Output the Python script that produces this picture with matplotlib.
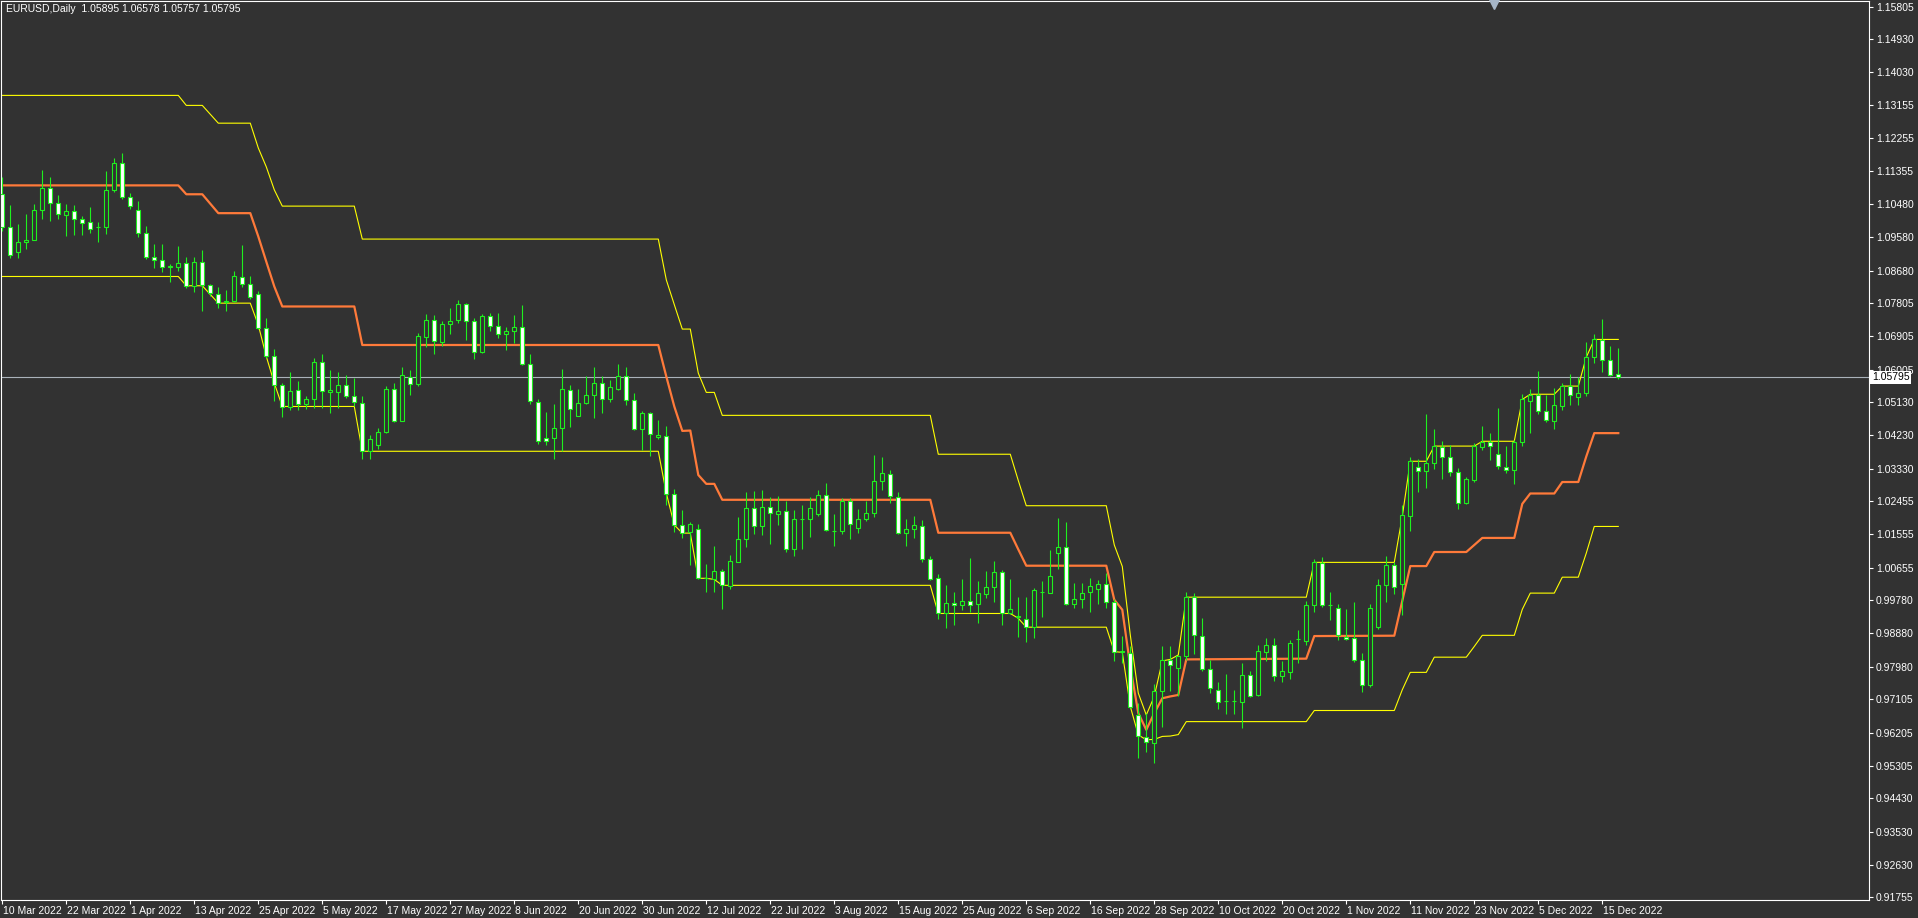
import matplotlib
matplotlib.use("Agg")
import matplotlib.pyplot as plt
import matplotlib.transforms as mtransforms
import numpy as np

plt.rcParams['font.family'] = ['Liberation Sans', 'DejaVu Sans']

# daily EURUSD bars, 10 Mar 2022 .. 19 Dec 2022
opens = [
    1.1074, 1.0985, 1.0918, 1.0946, 1.0950, 1.1031, 1.1090, 1.1050, 1.1018, 1.1028,
    1.1007, 1.0999, 1.0985, 1.0985, 1.1085, 1.1158, 1.1066, 1.1031, 1.0969, 1.0904,
    1.0896, 1.0877, 1.0877, 1.0889, 1.0826, 1.0891, 1.0828, 1.0804, 1.0782, 1.0787,
    1.0850, 1.0831, 1.0804, 1.0713, 1.0637, 1.0559, 1.0499, 1.0545, 1.0507, 1.0521,
    1.0621, 1.0540, 1.0540, 1.0559, 1.0529, 1.0510, 1.0380, 1.0397, 1.0432, 1.0548,
    1.0461, 1.0580, 1.0561, 1.0688, 1.0734, 1.0674, 1.0723, 1.0734, 1.0777, 1.0731,
    1.0647, 1.0745, 1.0718, 1.0696, 1.0704, 1.0715, 1.0615, 1.0512, 1.0415, 1.0415,
    1.0442, 1.0545, 1.0475, 1.0510, 1.0531, 1.0564, 1.0521, 1.0547, 1.0583, 1.0518,
    1.0440, 1.0483, 1.0419, 1.0421, 1.0264, 1.0180, 1.0161, 1.0169, 1.0037, 1.0034,
    1.0056, 1.0016, 1.0080, 1.0143, 1.0226, 1.0178, 1.0229, 1.0210, 1.0218, 1.0115,
    1.0196, 1.0196, 1.0210, 1.0261, 1.0164, 1.0164, 1.0245, 1.0172, 1.0196, 1.0213,
    1.0299, 1.0318, 1.0256, 1.0159, 1.0169, 1.0177, 1.0088, 1.0037, 0.9943, 0.9970,
    0.9964, 0.9975, 0.9967, 0.9994, 1.0013, 1.0053, 0.9943, 0.9932, 0.9926, 0.9905,
    1.0000, 0.9997, 1.0105, 1.0121, 0.9967, 0.9980, 0.9999, 1.0007, 1.0021, 0.9972,
    0.9837, 0.9835, 0.9667, 0.9608, 0.9592, 0.9732, 0.9816, 0.9794, 0.9827, 0.9986,
    0.9880, 0.9791, 0.9735, 0.9705, 0.9705, 0.9702, 0.9775, 0.9721, 0.9837, 0.9856,
    0.9773, 0.9785, 0.9873, 0.9869, 0.9964, 1.0078, 0.9964, 0.9956, 0.9879, 0.9876,
    0.9816, 0.9748, 0.9905, 1.0018, 1.0072, 1.0021, 1.0205, 1.0337, 1.0326, 1.0348,
    1.0391, 1.0364, 1.0323, 1.0240, 1.0302, 1.0391, 1.0404, 1.0372, 1.0337, 1.0329,
    1.0404, 1.0515, 1.0531, 1.0488, 1.0461, 1.0502, 1.0556, 1.0526, 1.0537, 1.0634,
    1.0680, 1.0626, 1.05895,
]
highs = [
    1.1120, 1.1046, 1.0994, 1.1021, 1.1047, 1.1139, 1.1121, 1.1072, 1.1048, 1.1045,
    1.1016, 1.1040, 1.0999, 1.1136, 1.1172, 1.1186, 1.1078, 1.1055, 1.0988, 1.0939,
    1.0939, 1.0885, 1.0934, 1.0904, 1.0904, 1.0923, 1.0831, 1.0824, 1.0815, 1.0866,
    1.0937, 1.0853, 1.0814, 1.0740, 1.0656, 1.0564, 1.0594, 1.0569, 1.0529, 1.0632,
    1.0642, 1.0599, 1.0594, 1.0586, 1.0578, 1.0529, 1.0424, 1.0443, 1.0556, 1.0564,
    1.0607, 1.0599, 1.0699, 1.0751, 1.0747, 1.0731, 1.0766, 1.0788, 1.0780, 1.0739,
    1.0750, 1.0753, 1.0753, 1.0715, 1.0747, 1.0774, 1.0642, 1.0520, 1.0485, 1.0507,
    1.0601, 1.0558, 1.0547, 1.0583, 1.0607, 1.0583, 1.0572, 1.0615, 1.0607, 1.0537,
    1.0488, 1.0485, 1.0464, 1.0448, 1.0278, 1.0221, 1.0190, 1.0183, 1.0075, 1.0124,
    1.0061, 1.0099, 1.0202, 1.0269, 1.0272, 1.0275, 1.0256, 1.0259, 1.0245, 1.0221,
    1.0234, 1.0256, 1.0275, 1.0294, 1.0210, 1.0253, 1.0253, 1.0223, 1.0245, 1.0369,
    1.0364, 1.0329, 1.0269, 1.0196, 1.0205, 1.0194, 1.0097, 1.0048, 1.0018, 0.9999,
    1.0034, 1.0091, 1.0029, 1.0056, 1.0083, 1.0059, 1.0034, 0.9986, 0.9986, 1.0010,
    1.0029, 1.0113, 1.0199, 1.0188, 1.0024, 1.0024, 1.0037, 1.0032, 1.0051, 0.9980,
    0.9880, 0.9853, 0.9700, 0.9673, 0.9751, 0.9854, 0.9854, 0.9829, 0.9999, 0.9997,
    0.9929, 0.9816, 0.9756, 0.9778, 0.9735, 0.9808, 0.9786, 0.9856, 0.9875, 0.9875,
    0.9813, 0.9871, 0.9898, 0.9977, 1.0088, 1.0094, 0.9999, 0.9967, 0.9953, 0.9974,
    0.9835, 0.9967, 1.0034, 1.0097, 1.0080, 1.0234, 1.0364, 1.0358, 1.0480, 1.0439,
    1.0407, 1.0396, 1.0334, 1.0310, 1.0402, 1.0447, 1.0429, 1.0496, 1.0394, 1.0410,
    1.0534, 1.0547, 1.0596, 1.0531, 1.0550, 1.0564, 1.0588, 1.0580, 1.0674, 1.0696,
    1.0736, 1.0664, 1.06578,
]
lows = [
    1.0976, 1.0902, 1.0901, 1.0925, 1.0950, 1.1006, 1.1003, 1.1008, 1.0960, 1.0963,
    1.0965, 1.0970, 1.0944, 1.0967, 1.1079, 1.1061, 1.1034, 1.0959, 1.0899, 1.0874,
    1.0864, 1.0836, 1.0868, 1.0820, 1.0809, 1.0758, 1.0798, 1.0768, 1.0760, 1.0783,
    1.0823, 1.0791, 1.0710, 1.0632, 1.0515, 1.0472, 1.0491, 1.0491, 1.0494, 1.0497,
    1.0497, 1.0483, 1.0497, 1.0523, 1.0501, 1.0359, 1.0359, 1.0386, 1.0429, 1.0459,
    1.0461, 1.0533, 1.0555, 1.0661, 1.0642, 1.0664, 1.0696, 1.0726, 1.0680, 1.0628,
    1.0645, 1.0704, 1.0685, 1.0653, 1.0672, 1.0612, 1.0507, 1.0399, 1.0396, 1.0358,
    1.0380, 1.0445, 1.0475, 1.0507, 1.0469, 1.0483, 1.0512, 1.0545, 1.0504, 1.0437,
    1.0383, 1.0367, 1.0413, 1.0234, 1.0161, 1.0145, 1.0073, 1.0034, 0.9999, 0.9999,
    0.9953, 1.0007, 1.0080, 1.0121, 1.0156, 1.0153, 1.0129, 1.0180, 1.0107, 1.0097,
    1.0115, 1.0148, 1.0205, 1.0164, 1.0124, 1.0156, 1.0143, 1.0159, 1.0191, 1.0202,
    1.0275, 1.0240, 1.0156, 1.0124, 1.0145, 1.0080, 1.0032, 0.9926, 0.9902, 0.9910,
    0.9951, 0.9945, 0.9916, 0.9983, 0.9972, 0.9910, 0.9940, 0.9878, 0.9864, 0.9875,
    0.9932, 0.9997, 1.0061, 0.9965, 0.9956, 0.9956, 0.9945, 0.9967, 0.9956, 0.9813,
    0.9808, 0.9686, 0.9551, 0.9567, 0.9538, 0.9635, 0.9732, 0.9719, 0.9816, 0.9832,
    0.9788, 0.9727, 0.9683, 0.9670, 0.9670, 0.9632, 0.9716, 0.9719, 0.9813, 0.9759,
    0.9756, 0.9765, 0.9808, 0.9857, 0.9945, 0.9959, 0.9924, 0.9871, 0.9871, 0.9810,
    0.9729, 0.9743, 0.9900, 0.9972, 0.9994, 0.9937, 1.0164, 1.0271, 1.0280, 1.0331,
    1.0304, 1.0313, 1.0223, 1.0237, 1.0296, 1.0383, 1.0356, 1.0331, 1.0321, 1.0291,
    1.0394, 1.0429, 1.0480, 1.0458, 1.0439, 1.0491, 1.0504, 1.0504, 1.0529, 1.0618,
    1.0593, 1.0583, 1.05757,
]
closes = [
    1.0985, 1.0910, 1.0945, 1.0951, 1.1031, 1.1090, 1.1050, 1.1020, 1.1028, 1.1007,
    1.0996, 1.0980, 1.0985, 1.1085, 1.1158, 1.1066, 1.1042, 1.0969, 1.0904, 1.0896,
    1.0877, 1.0879, 1.0889, 1.0826, 1.0891, 1.0828, 1.0807, 1.0780, 1.0787, 1.0853,
    1.0831, 1.0796, 1.0713, 1.0637, 1.0559, 1.0499, 1.0542, 1.0507, 1.0521, 1.0621,
    1.0542, 1.0545, 1.0559, 1.0529, 1.0513, 1.0380, 1.0413, 1.0432, 1.0548, 1.0461,
    1.0585, 1.0561, 1.0691, 1.0734, 1.0677, 1.0723, 1.0731, 1.0777, 1.0731, 1.0647,
    1.0745, 1.0718, 1.0696, 1.0704, 1.0715, 1.0615, 1.0515, 1.0407, 1.0407, 1.0442,
    1.0547, 1.0493, 1.0510, 1.0531, 1.0564, 1.0521, 1.0553, 1.0583, 1.0518, 1.0440,
    1.0483, 1.0426, 1.0423, 1.0264, 1.0180, 1.0159, 1.0183, 1.0037, 1.0038, 1.0056,
    1.0018, 1.0083, 1.0143, 1.0226, 1.0178, 1.0229, 1.0213, 1.0218, 1.0115, 1.0196,
    1.0197, 1.0226, 1.0261, 1.0167, 1.0164, 1.0245, 1.0183, 1.0196, 1.0213, 1.0299,
    1.0321, 1.0259, 1.0159, 1.0169, 1.0180, 1.0088, 1.0034, 0.9943, 0.9970, 0.9964,
    0.9975, 0.9964, 0.9997, 1.0013, 1.0053, 0.9943, 0.9953, 0.9934, 0.9905, 1.0005,
    1.0000, 1.0043, 1.0121, 0.9967, 0.9980, 0.9997, 1.0016, 1.0021, 0.9972, 0.9837,
    0.9840, 0.9689, 0.9610, 0.9594, 0.9732, 0.9816, 0.9802, 0.9827, 0.9986, 0.9883,
    0.9791, 0.9740, 0.9702, 0.9705, 0.9706, 0.9775, 0.9719, 0.9840, 0.9856, 0.9773,
    0.9786, 0.9862, 0.9874, 0.9964, 1.0080, 0.9964, 0.9964, 0.9884, 0.9874, 0.9816,
    0.9748, 0.9956, 1.0018, 1.0072, 1.0013, 1.0207, 1.0353, 1.0326, 1.0348, 1.0394,
    1.0364, 1.0323, 1.0240, 1.0304, 1.0394, 1.0404, 1.0394, 1.0340, 1.0329, 1.0404,
    1.0521, 1.0531, 1.0488, 1.0464, 1.0504, 1.0556, 1.0531, 1.0537, 1.0634, 1.0682,
    1.0626, 1.0585, 1.05795,
]

# channel lines: break points (bar index, price)
upper_idx = [0, 22, 23, 25, 27, 31, 32, 33, 34, 35, 44, 45, 82, 83, 84, 85, 86, 87, 88, 89,
             90, 116, 117, 126, 127, 128, 138, 139, 140, 141, 142, 143, 144, 145, 146, 147,
             148, 163, 164, 174, 175, 176, 178, 179, 184, 185, 189, 190, 191, 194, 195, 197,
             198, 199, 202]
upper_val = [1.1341, 1.1341, 1.1314, 1.1314, 1.1266, 1.1266, 1.1199, 1.1148, 1.1086, 1.1042,
             1.1042, 1.0953, 1.0953, 1.0843, 1.0776, 1.0710, 1.0710, 1.0591, 1.0539, 1.0539,
             1.0477, 1.0477, 1.0372, 1.0372, 1.0301, 1.0233, 1.0233, 1.0127, 1.0069, 0.9884,
             0.9727, 0.9668, 0.9718, 0.9814, 0.9818, 0.9830, 0.9986, 0.9986, 1.0080, 1.0080,
             1.0204, 1.0353, 1.0353, 1.0394, 1.0394, 1.0407, 1.0407, 1.0520, 1.0534, 1.0534,
             1.0556, 1.0556, 1.0634, 1.0682, 1.0682]

middle_idx = [0, 22, 23, 25, 27, 31, 32, 33, 34, 35, 44, 45, 82, 83, 84, 85, 86, 87, 88, 89,
              90, 116, 117, 126, 127, 128, 138, 139, 140, 141, 142, 143, 144, 145, 146, 147,
              148, 163, 164, 174, 175, 176, 178, 179, 183, 184, 185, 189, 190, 191, 194, 195,
              197, 198, 199, 202]
middle_val = [1.1098, 1.1098, 1.1074, 1.1074, 1.1023, 1.1023, 1.0960, 1.0892, 1.0825, 1.0771,
              1.0771, 1.0667, 1.0667, 1.0582, 1.0501, 1.0435, 1.0436, 1.0316, 1.0292, 1.0292,
              1.0249, 1.0249, 1.0160, 1.0160, 1.0115, 1.0071, 1.0071, 0.9979, 0.9952, 0.9799,
              0.9673, 0.9628, 0.9673, 0.9713, 0.9718, 0.9722, 0.9818, 0.9820, 0.9881, 0.9882,
              0.9976, 1.0070, 1.0070, 1.0108, 1.0108, 1.0127, 1.0146, 1.0146, 1.0238, 1.0266,
              1.0266, 1.0297, 1.0297, 1.0366, 1.0429, 1.0429]

lower_idx = [0, 22, 23, 25, 27, 31, 32, 33, 34, 35, 44, 45, 82, 83, 84, 85, 86, 87, 88, 89,
             90, 116, 117, 126, 127, 128, 138, 139, 140, 141, 142, 143, 144, 145, 146, 147,
             148, 163, 164, 174, 175, 176, 178, 179, 183, 184, 185, 189, 190, 191, 194, 195,
             197, 198, 199, 202]
lower_val = [1.0852, 1.0852, 1.0827, 1.0827, 1.0780, 1.0780, 1.0721, 1.0636, 1.0564, 1.0501,
             1.0501, 1.0380, 1.0380, 1.0267, 1.0181, 1.0159, 1.0159, 1.0037, 1.0037, 1.0034,
             1.0018, 1.0018, 0.9942, 0.9942, 0.9929, 0.9905, 0.9905, 0.9839, 0.9837, 0.9691,
             0.9614, 0.9601, 0.9602, 0.9610, 0.9611, 0.9615, 0.9650, 0.9650, 0.9680, 0.9680,
             0.9736, 0.9783, 0.9783, 0.9824, 0.9824, 0.9853, 0.9883, 0.9883, 0.9953, 0.9997,
             0.9997, 1.0040, 1.0040, 1.0105, 1.0177, 1.0177]

date_labels = ['10 Mar 2022', '22 Mar 2022', '1 Apr 2022', '13 Apr 2022', '25 Apr 2022',
               '5 May 2022', '17 May 2022', '27 May 2022', '8 Jun 2022', '20 Jun 2022',
               '30 Jun 2022', '12 Jul 2022', '22 Jul 2022', '3 Aug 2022', '15 Aug 2022',
               '25 Aug 2022', '6 Sep 2022', '16 Sep 2022', '28 Sep 2022', '10 Oct 2022',
               '20 Oct 2022', '1 Nov 2022', '11 Nov 2022', '23 Nov 2022', '5 Dec 2022',
               '15 Dec 2022']
price_ticks = [1.15805, 1.14930, 1.14030, 1.13155, 1.12255, 1.11355, 1.10480, 1.09580,
               1.08680, 1.07805, 1.06905, 1.06005, 1.05130, 1.04230, 1.03330, 1.02455,
               1.01555, 1.00655, 0.99780, 0.98880, 0.97980, 0.97105, 0.96205, 0.95305,
               0.94430, 0.93530, 0.92630, 0.91755]
bid = 1.05795
title = "EURUSD,Daily  1.05895 1.06578 1.05757 1.05795"

BG = '#323232'
GREEN = '#1ef01e'
YELLOW = '#ffff00'
ORANGE = '#ff7a3a'

W, H = 1918, 918
fig = plt.figure(figsize=(W / 100, H / 100), dpi=100, facecolor=BG)
ax = fig.add_axes([1 / W, 18 / H, 1868 / W, 899 / H], facecolor=BG)

o, h, l, c = (np.array(v) for v in (opens, highs, lows, closes))
x = np.arange(len(c))

# bid line
ax.axhline(bid, color='#aab2ba', lw=0.8, zorder=1)

# channel
ax.plot(upper_idx, upper_val, color=YELLOW, lw=0.8, zorder=2)
ax.plot(lower_idx, lower_val, color=YELLOW, lw=0.8, zorder=2)
ax.plot(middle_idx, middle_val, color=ORANGE, lw=1.6, zorder=2)

# candles
ax.vlines(x, l, h, color=GREEN, lw=0.8, zorder=3)
bull = c >= o
body_lo = np.minimum(o, c)
body_h = np.maximum(np.abs(c - o), 1e-6)
ax.bar(x, body_h, bottom=body_lo, width=0.5,
       color=np.where(bull, BG, 'white'), edgecolor=GREEN, linewidth=0.8, zorder=4)

ax.set_xlim(-0.1625, 233.34)
ax.set_ylim(0.91683, 1.15959)

for s in ax.spines.values():
    s.set_color('white')
    s.set_linewidth(0.8)

ax.set_xticks(np.arange(len(date_labels)) * 8)
ax.set_xticklabels(date_labels, ha='left')
ax.tick_params(axis='x', colors='white', length=3, width=0.8, pad=1, labelsize=7.5)
off = mtransforms.ScaledTranslation(1 / 100, 0, fig.dpi_scale_trans)
for lbl in ax.get_xticklabels():
    lbl.set_transform(lbl.get_transform() + off)

ax.yaxis.tick_right()
ax.set_yticks(price_ticks)
ax.set_yticklabels([f"{p:.5f}" for p in price_ticks])
ax.tick_params(axis='y', colors='white', length=3, width=0.8, pad=2, labelsize=7.5)

# current price tag
ax.text(1.0015, bid, f"{bid:.5f}", transform=ax.get_yaxis_transform(), va='center',
        ha='left', fontsize=7.5, color='black', clip_on=False, zorder=10,
        bbox=dict(facecolor='white', edgecolor='none', pad=1.0))

# chart shift marker
ax.plot([186.5], [0.997], marker='v', markersize=7, color='#a6b6c8',
        transform=ax.get_xaxis_transform(), clip_on=False, zorder=6)

fig.text(6 / W, 1 - 4 / H, title, va='top', ha='left', color='white', fontsize=7.5)

fig.savefig('out.png', dpi=100, facecolor=BG)
